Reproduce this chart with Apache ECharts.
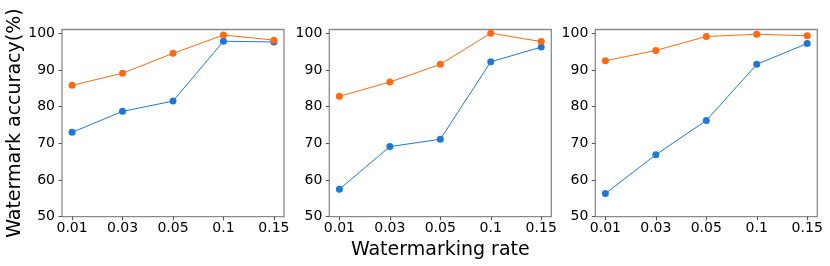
<!DOCTYPE html>
<html>
<head>
<meta charset="utf-8">
<script src="https://cdn.jsdelivr.net/npm/echarts@6/dist/echarts.min.js"></script>
<style>html,body{margin:0;padding:0;background:#fff}#c{width:830px;height:266px}</style>
</head>
<body>
<div id="c"></div>
<script>
var rateLabels = ['0.01', '0.03', '0.05', '0.1', '0.15'];
var yTicks = [50, 60, 70, 80, 90, 100];
var orange1 = [85.8, 89.1, 94.5, 99.5, 98.1];
var blue1 = [73.0, 78.7, 81.5, 97.8, 97.6];
var orange2 = [82.8, 86.7, 91.5, 100.0, 97.7];
var blue2 = [57.5, 69.1, 71.1, 92.2, 96.2];
var orange3 = [92.5, 95.3, 99.1, 99.7, 99.3];
var blue3 = [56.3, 66.9, 76.2, 91.5, 97.2];

var ORANGE = '#ff6a13', BLUE = '#1f78d4', FRAME = '#8a8a8a';
var FONT = 'DejaVu Sans';
var panels = [[blue1, orange1], [blue2, orange2], [blue3, orange3]];
var lefts = [62, 329.3, 595.3];
var idx = rateLabels.map(function (_, i) { return i; });

var grids = [], xAxes = [], yAxes = [], series = [];
panels.forEach(function (p, k) {
  grids.push({ left: lefts[k], top: 29.5, width: 222, height: 187.2, show: true,
    borderColor: FRAME, borderWidth: 1.3, backgroundColor: 'transparent' });
  xAxes.push({
    type: 'value', gridIndex: k, min: -0.2, max: 4.2,
    axisLine: { show: false, onZero: false }, splitLine: { show: false },
    axisTick: { show: true, inside: false, length: 3.5, customValues: idx, lineStyle: { color: '#555', width: 1 } },
    axisLabel: { customValues: idx, margin: 5, fontSize: 14, color: '#000', fontFamily: FONT,
      formatter: function (v) { return rateLabels[Math.round(v)]; } },
    name: k === 1 ? 'Watermarking rate' : '', nameLocation: 'middle', nameGap: 24,
    nameTextStyle: { fontSize: 19, color: '#000', fontFamily: FONT }
  });
  yAxes.push({
    type: 'value', gridIndex: k, min: 50, max: 101,
    axisLine: { show: false, onZero: false }, splitLine: { show: false },
    axisTick: { show: true, inside: false, length: 3.5, customValues: yTicks, lineStyle: { color: '#555', width: 1 } },
    axisLabel: { customValues: yTicks, margin: 7, fontSize: 14, color: '#000', fontFamily: FONT },
    name: k === 0 ? 'Watermark accuracy(%)' : '', nameLocation: 'middle', nameGap: 33, nameRotate: 90,
    nameTextStyle: { fontSize: 19, color: '#000', fontFamily: FONT }
  });
  [[p[0], BLUE], [p[1], ORANGE]].forEach(function (s) {
    series.push({
      type: 'line', xAxisIndex: k, yAxisIndex: k,
      data: s[0].map(function (v, i) { return [i, v]; }),
      symbol: 'circle', symbolSize: 7, showSymbol: true,
      lineStyle: { color: s[1], width: 1 }, itemStyle: { color: s[1] },
      animation: false, silent: true
    });
  });
});

var chart = echarts.init(document.getElementById('c'), null, { renderer: 'canvas' });
chart.setOption({ animation: false, grid: grids, xAxis: xAxes, yAxis: yAxes, series: series });
</script>
</body>
</html>
